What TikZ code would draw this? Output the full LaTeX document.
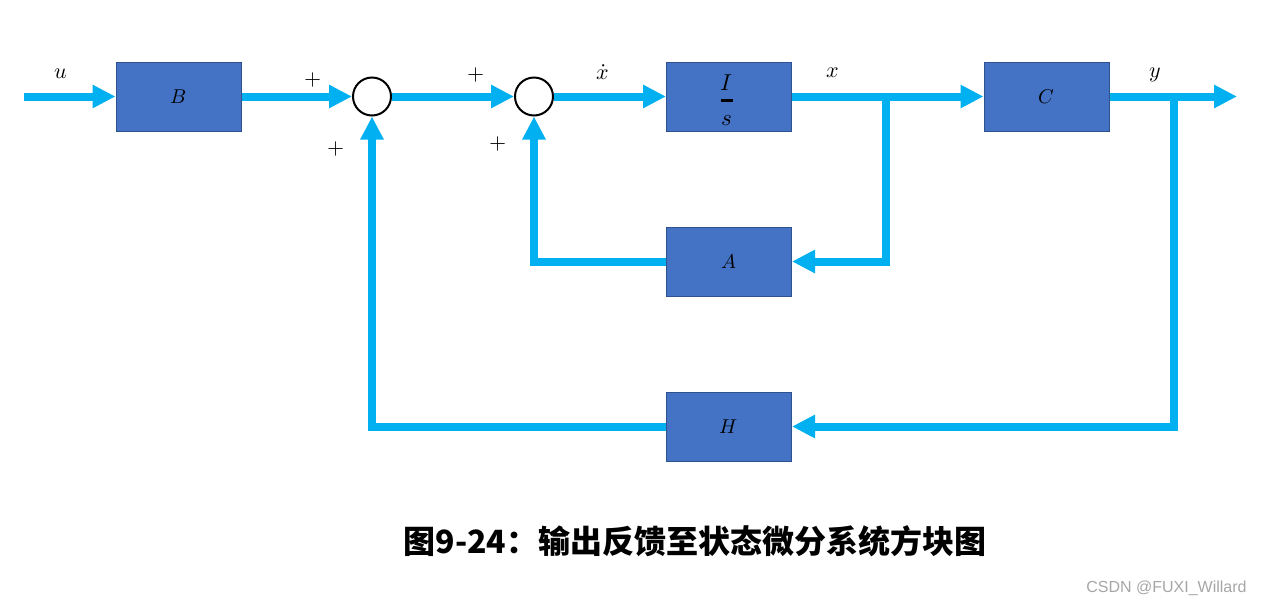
\documentclass[tikz,border=0pt]{standalone}
\usepackage{amsmath}
\usepackage{fontspec}
\usepackage{unicode-math}
\setmathfont{Latin Modern Math}
\newfontfamily\cjk{Noto Sans CJK SC}
\newfontfamily\wmfont{Liberation Sans}
\usetikzlibrary{arrows.meta}
\definecolor{blkfill}{HTML}{4472C4}
\definecolor{blkborder}{HTML}{2F528F}
\definecolor{sigcol}{HTML}{00B0F0}
\definecolor{wmgray}{HTML}{A6A6A6}
\begin{document}
\begin{tikzpicture}[x=1pt,y=-1pt,
  blk/.style={draw=blkborder, fill=blkfill, line width=1pt, minimum width=125pt, minimum height=69pt, inner sep=0pt, font=\fontsize{20}{24}\selectfont},
  sumj/.style={circle, draw=black, line width=2pt, minimum size=38pt, inner sep=0pt, fill=white},
  sig/.style={draw=sigcol, line width=8pt},
  arr/.style={sig, -{Triangle[length=23pt,width=22pt]}},
  lbl/.style={font=\fontsize{22}{26}\selectfont, inner sep=0pt}]
\useasboundingbox (0,0) rectangle (1262,606);
% blocks
\node[blk] (B) at (178.5,96.5) {$B$};
\node[sumj] (S1) at (372,96.5) {};
\node[sumj] (S2) at (534,96.5) {};
\node[blk] (I) at (729,96.5) {};
\node[inner sep=0pt, font=\fontsize{23}{28}\selectfont] (Ifrac) at (727,100.5) {$\genfrac{}{}{3pt}{0}{I}{\raisebox{-4pt}{$s$}}$};
\node[blk] (C) at (1046.5,96.5) {$C$};
\node[blk] (A) at (729,261.5) {$A$};
\node[blk] (H) at (729,426.5) {$H$};
% coordinates
\coordinate (in) at (24,96.5);
\coordinate (out) at (1237,96.5);
\coordinate (bx) at (886,96.5);
\coordinate (by) at (1174,96.5);
% connectors
\draw[arr] (in) -- (B);
\draw[arr] (B) -- (S1);
\draw[arr] (S1) -- (S2);
\draw[arr] (S2) -- (I);
\draw[arr] (I) -- (C);
\draw[arr] (C) -- (out);
\draw[arr] (bx) |- (A);
\draw[arr] (by) |- (H);
\draw[arr] (A) -| (S2);
\draw[arr] (H) -| (S1);
% labels
\node[lbl] (lu) at (61,74) {$u$};
\node[lbl] (p1) at (313.5,79.5) {$+$};
\node[lbl] (p2) at (336,148.5) {$+$};
\node[lbl] (p3) at (476,75) {$+$};
\node[lbl] (p4) at (498,143.5) {$+$};
\node[lbl] (lxd) at (603,72.5) {$\dot{x}$};
\node[lbl] (lx) at (833,73) {$x$};
\node[lbl] (ly) at (1155,74.5) {$y$};
% caption
\node (cap) at (695,541) {\cjk\bfseries\fontsize{32}{36}\selectfont 图9-24：输出反馈至状态微分系统方块图};
\node[text=wmgray] (wm) at (1166.5,588) {\wmfont\fontsize{16}{18}\selectfont CSDN @FUXI\_Willard};
\end{tikzpicture}
\end{document}
